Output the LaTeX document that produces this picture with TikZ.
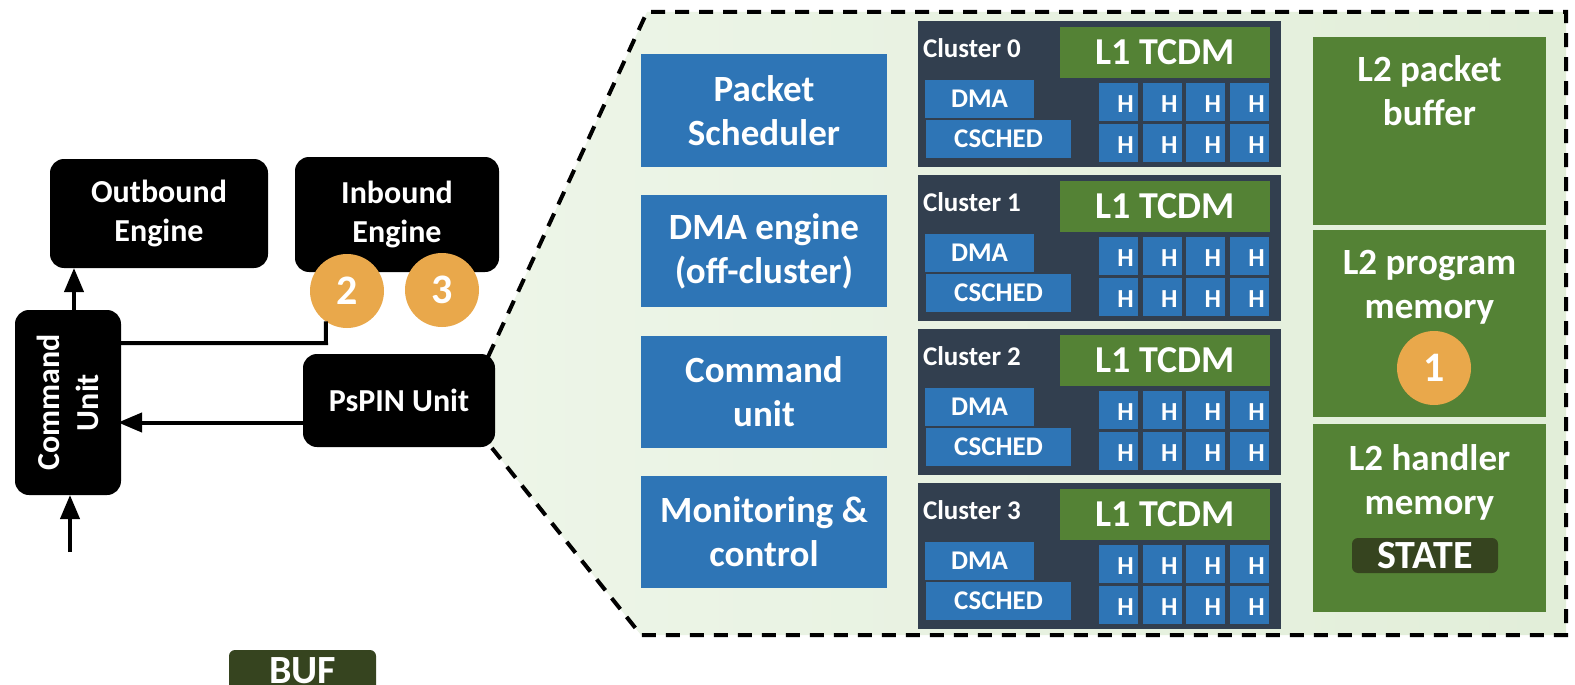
\documentclass[tikz,border=0pt]{standalone}
\usepackage{fontspec}
\setmainfont{Carlito}
\usetikzlibrary{arrows.meta}

\definecolor{pinblue}{HTML}{2E75B6}
\definecolor{clusterbg}{HTML}{323F4F}
\definecolor{memgreen}{HTML}{548235}
\definecolor{badge}{HTML}{E9A84B}
\definecolor{tagdark}{HTML}{36441F}
\definecolor{areaL}{HTML}{EDF5E8}
\definecolor{areaR}{HTML}{E2EED9}

% bold text of a given size / baseline skip
\newcommand\tsz[2]{\fontsize{#1}{#2}\selectfont\bfseries}
% box node given by its corners: name, style, x1, y1, x2, y2, text
\newcommand\bx[7]{\node[#2, minimum width={((#5)-(#3))*1pt}, minimum height={((#6)-(#4))*1pt}]
  (#1) at ({((#3)+(#5))/2},{((#4)+(#6))/2}) {#7};}

\tikzset{
  every node/.style={inner sep=0pt, outer sep=0pt},
  unitbox/.style={fill=black, rounded corners=14pt, text=white, align=center, font=\tsz{32}{39}},
  blockbox/.style={fill=pinblue, text=white, align=center, font=\tsz{37}{44}},
  clusterbox/.style={fill=clusterbg},
  clusterlabel/.style={text=white, anchor=west, font=\tsz{27}{32}},
  tcdm/.style={fill=memgreen, text=white, font=\tsz{38}{44}},
  smallblue/.style={fill=pinblue, text=white, font=\tsz{27}{32}},
  hletter/.style={text=white, font=\tsz{26}{30}, xshift=7pt, yshift=-2pt},
  hcore/.style={fill=pinblue, label={[hletter]center:H}},
  l2box/.style={fill=memgreen},
  l2text/.style={text=white, align=center, font=\tsz{37}{44}, anchor=north},
  badgestyle/.style={circle, fill=badge, minimum size=74pt, text=white, font=\tsz{42}{48}},
  tag/.style={fill=tagdark, rounded corners=6pt, text=white, font=\tsz{40}{46}},
  wire/.style={line width=4pt},
  arr/.style={wire, -{Triangle[length=24pt,width=19pt]}},
  area/.style={dash pattern=on 14pt off 10pt, line width=4pt}
}

\begin{document}
\begin{tikzpicture}[x=1pt, y=-1pt]
\useasboundingbox (0,0) rectangle (1575,685);
\clip (0,0) rectangle (1575,685);
\fill[white] (0,0) rectangle (1575,685);

% zoomed-in PsPIN area
\shade[left color=areaL, right color=areaR]
  (488,357) -- (647,12) -- (1566,12) -- (1566,635) -- (641,635) -- (488,443) -- cycle;
\draw[area] (488,357) -- (647,12) -- (1566,12) -- (1566,635) -- (641,635) -- (488,443);

% NIC side
\bx{outb}{unitbox}{50}{159}{268}{268}{Outbound\\Engine}
\bx{inb}{unitbox}{295}{157}{499}{272}{Inbound\\Engine}
\bx{psp}{unitbox}{303}{354}{495}{447}{PsPIN Unit}
\node[unitbox, rotate=90, minimum width=185pt, minimum height=106pt] (cmd) at (68,402.5) {Command\\Unit};

\node[badgestyle] (c2) at (347,291) {2};
\node[badgestyle] (c3) at (442,290) {3};

\coordinate (cu) at ([xshift=6pt]cmd.east);
\draw[arr] (cu) -- (cu |- outb.south);
\coordinate (feed) at (70,552);
\draw[arr] (feed) -- (feed |- cmd.west);
\coordinate (bend) at (326,343);
\draw[wire] (bend -| cmd.south) -- (bend) -- (c2.235);
\coordinate (pout) at ([yshift=-22pt]psp.west);
\draw[arr, shorten >=-3pt] (pout) -- (pout -| cmd.south);

\bx{buf}{tag}{229}{650}{376}{692}{BUF}

% PsPIN building blocks
\bx{psched}{blockbox}{641}{54}{887}{167}{Packet\\Scheduler}
\bx{dmaeng}{blockbox}{641}{195}{887}{307}{DMA engine\\(off-cluster)}
\bx{cmdunit}{blockbox}{641}{336}{887}{448}{Command\\unit}
\bx{monitor}{blockbox}{641}{476}{887}{588}{Monitoring \&\\control}

% clusters
\foreach \i in {0,...,3}{
  \pgfmathsetmacro\t{21+154*\i}
  \bx{cl\i}{clusterbox}{918}{\t}{1281}{\t+146}{}
  \node[clusterlabel] (lab\i) at (923,\t+27) {Cluster \i};
  \bx{l1\i}{tcdm}{1060}{\t+6}{1270}{\t+57}{L1 TCDM}
  \bx{dma\i}{smallblue}{925}{\t+59}{1034}{\t+97}{DMA}
  \bx{cs\i}{smallblue}{926}{\t+99}{1071}{\t+137}{CSCHED}
  \foreach \c in {0,...,3}{
    \pgfmathsetmacro\hx{1099+43.7*\c}
    \bx{h\i-0-\c}{hcore}{\hx}{\t+62}{\hx+39}{\t+100}{}
    \bx{h\i-1-\c}{hcore}{\hx}{\t+103}{\hx+39}{\t+141}{}
  }
}

% L2 memories
\bx{l2pkt}{l2box}{1313}{37}{1546}{225}{}
\node[l2text] (l2pkttxt) at (1429.5,56) {L2 packet\\buffer};
\bx{l2prog}{l2box}{1313}{230}{1546}{417}{}
\node[l2text] (l2progtxt) at (1429.5,250) {L2 program\\memory};
\node[badgestyle] (c1) at (1434,368) {1};
\bx{l2hnd}{l2box}{1313}{424}{1546}{612}{}
\node[l2text] (l2hndtxt) at (1429.5,445) {L2 handler\\memory};
\bx{state}{tag}{1352}{538}{1498}{573}{STATE}
\end{tikzpicture}
\end{document}
